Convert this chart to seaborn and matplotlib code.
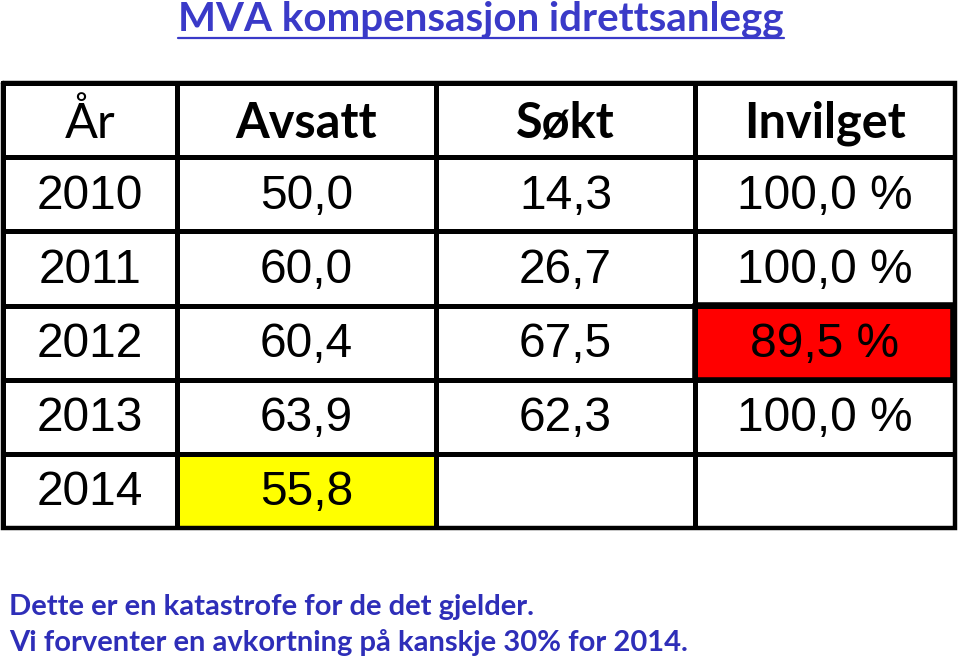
import numpy as np
import matplotlib
matplotlib.use("Agg")
import matplotlib.pyplot as plt
from matplotlib.colors import ListedColormap
import seaborn as sns

sns.set_theme(style="white")

title = "MVA kompensasjon idrettsanlegg"
headers = ["År", "Avsatt", "Søkt", "Invilget"]
years = ["2010", "2011", "2012", "2013", "2014"]
avsatt = ["50,0", "60,0", "60,4", "63,9", "55,8"]
sokt = ["14,3", "26,7", "67,5", "62,3", ""]
invilget = ["100,0 %", "100,0 %", "89,5 %", "100,0 %", ""]
# highlight codes: 0 white, 1 yellow, 2 red
highlight = [
    [0, 0, 0, 0],
    [0, 0, 0, 0],
    [0, 0, 0, 2],
    [0, 0, 0, 0],
    [0, 1, 0, 0],
]
footer = ["Dette er en katastrofe for de det gjelder.",
          "Vi forventer en avkortning på kanskje 30% for 2014."]

W, H = 960, 663
fig = plt.figure(figsize=(W / 100, H / 100), dpi=100)
fig.patch.set_facecolor("white")

left, right, top, bottom = 3, 955, 83, 528
ax = fig.add_axes([left / W, 1 - bottom / H, (right - left) / W, (bottom - top) / H])
xedges = np.array([3, 177, 436, 695, 955], dtype=float)
nrows = len(years) + 1
yedges = np.linspace(top, bottom, nrows + 1)

codes = np.vstack([[0, 0, 0, 0], np.array(highlight)])
cmap = ListedColormap(["#ffffff", "#ffff00", "#ff0000"])
ax.pcolormesh(xedges, yedges, codes, cmap=cmap, vmin=-0.5, vmax=2.5,
              edgecolors="black", linewidth=2.4, shading="flat")
ax.set_xlim(xedges[0], xedges[-1])
ax.set_ylim(yedges[-1], yedges[0])
ax.set_axis_off()

ax.plot([xedges[0], xedges[-1], xedges[-1], xedges[0], xedges[0]],
        [yedges[0], yedges[0], yedges[-1], yedges[-1], yedges[0]],
        color="black", lw=3.2, clip_on=False, solid_joinstyle="miter")
for i, row in enumerate(highlight):
    for j, c in enumerate(row):
        if c == 2:
            x0, x1 = xedges[j], xedges[j + 1] - 2
            y0, y1 = yedges[i + 1] - 1, yedges[i + 2]
            ax.plot([x0, x1, x1, x0, x0], [y0, y0, y1, y1, y0],
                    color="black", lw=4.0, clip_on=False, solid_joinstyle="miter")

xc = (xedges[:-1] + xedges[1:]) / 2
yc = (yedges[:-1] + yedges[1:]) / 2

hdr_font = ["Lato", "DejaVu Sans"]
num_font = ["Liberation Sans Narrow", "Liberation Sans", "DejaVu Sans"]
for j, h in enumerate(headers):
    ax.text(xc[j], yc[0] + 3, h, ha="center", va="center", fontsize=35,
            fontweight="normal" if j == 0 else "bold", family=hdr_font, color="black")

cols = [years, avsatt, sokt, invilget]
for j, col in enumerate(cols):
    for i, v in enumerate(col):
        if v:
            ax.text(xc[j], yc[i + 1] + 2, v, ha="center", va="center", fontsize=34.5,
                    family=num_font, color="black")

blue = "#3a3ac8"
t = fig.text(481 / W, 1 - 19 / H, title, ha="center", va="center", fontsize=29,
             fontweight="bold", family=hdr_font, color=blue)
fig.canvas.draw()
bb = t.get_window_extent()
fig.add_artist(plt.Line2D([bb.x0 / W, bb.x1 / W], [1 - 38 / H, 1 - 38 / H],
                          color=blue, lw=1.6, transform=fig.transFigure))

for k, line in enumerate(footer):
    fig.text(9 / W, 1 - (607 + 36 * k) / H, line, ha="left", va="center",
             fontsize=21, fontweight="bold", family=hdr_font, color="#2e2eb8")

fig.savefig("out.png", dpi=100, facecolor="white")
